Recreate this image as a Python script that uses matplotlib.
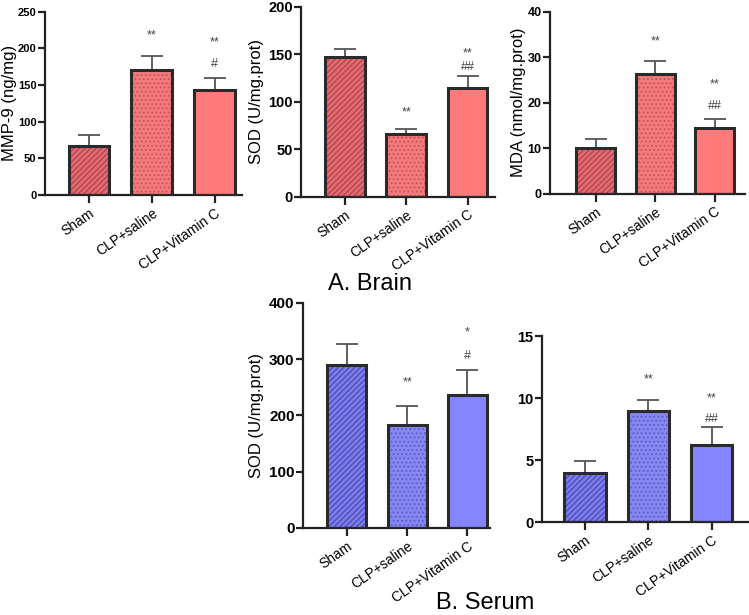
import matplotlib
matplotlib.use("Agg")
import matplotlib.pyplot as plt

plt.rcParams['font.family'] = ['Liberation Sans', 'DejaVu Sans']
plt.rcParams['hatch.linewidth'] = 0.8

# groups shared by all panels
groups = ["Sham", "CLP+saline", "CLP+Vitamin C"]

# brain panels (means and upper error bar)
mmp9_mean = [67, 171, 143]
mmp9_err = [15, 19, 17]
sod_brain_mean = [147, 66, 114]
sod_brain_err = [9, 5, 13]
mda_mean = [10.1, 26.3, 14.5]
mda_err = [1.9, 2.8, 1.9]

# serum panels
sod_serum_mean = [290, 183, 237]
sod_serum_err = [37, 33, 43]
serum2_mean = [3.95, 9.0, 6.2]
serum2_err = [1.0, 0.9, 1.45]

# significance marks (text, y)
mmp9_marks = [[], [("**", 217)], [("**", 208), ("#", 179)]]
sod_brain_marks = [[], [("**", 89)], [("**", 151), ("##", 137)]]
mda_marks = [[], [("**", 33.4)], [("**", 24), ("##", 19.3)]]
sod_serum_marks = [[], [("**", 258)], [("*", 348), ("#", 306)]]
serum2_marks = [[], [("**", 11.5)], [("**", 10), ("##", 8.3)]]

red = {"fill": ["#e46a72", "#f27a7c", "#ff7b7b"], "hatch": ["#a8404a", "#c85058", None]}
blue = {"fill": ["#7c7cec", "#8787f4", "#8585ff"], "hatch": ["#4646b0", "#5a5ac8", None]}
hatches = ["//////", "....", None]


def draw_panel(ax, means, errs, marks, ylim, yticks, ylabel, pal, xlim,
               label_x=-0.15, ytick_size=10):
    x = range(len(groups))
    for i in x:
        # fill + hatch layer
        ax.bar(i, means[i], width=0.65, color=pal["fill"][i],
               edgecolor=pal["hatch"][i] if pal["hatch"][i] else pal["fill"][i],
               hatch=hatches[i], linewidth=0, zorder=2)
        # outline layer
        ax.bar(i, means[i], width=0.65, fill=False, edgecolor="#2a2a2a",
               linewidth=2.2, zorder=3)
        ax.errorbar(i, means[i], yerr=[[0], [errs[i]]], fmt="none",
                    ecolor="#555555", elinewidth=1.3, capsize=8, capthick=1.3, zorder=1)
        for txt, yy in marks[i]:
            ax.text(i, yy, txt, ha="center", va="center", fontsize=9, color="#444444")
    ax.set_xlim(*xlim)
    ax.set_ylim(*ylim)
    ax.set_yticks(yticks)
    ax.set_xticks(list(x))
    ax.set_xticklabels(groups, rotation=35, ha="right", rotation_mode="anchor", fontsize=10)
    for lab in ax.get_yticklabels():
        lab.set_fontweight("bold")
        lab.set_fontsize(ytick_size)
    if ylabel:
        ax.set_ylabel(ylabel, fontsize=12)
        ax.yaxis.set_label_coords(label_x, 0.5)
    for s in ["top", "right"]:
        ax.spines[s].set_visible(False)
    for s in ["left", "bottom"]:
        ax.spines[s].set_linewidth(1.6)
        ax.spines[s].set_color("#222222")
    ax.tick_params(axis="y", width=1.6, length=5, color="#222222", pad=1)
    ax.tick_params(axis="x", width=1.6, length=6, color="#222222", pad=2)


fig = plt.figure(figsize=(7.49, 6.15), dpi=100)

ax1 = fig.add_axes([0.060, 0.683, 0.263, 0.298])
draw_panel(ax1, mmp9_mean, mmp9_err, mmp9_marks, (0, 250), [0, 50, 100, 150, 200, 250],
           "MMP-9 (ng/mg)", red, (-0.70, 2.43), label_x=-0.142, ytick_size=8)

ax2 = fig.add_axes([0.402, 0.680, 0.259, 0.309])
draw_panel(ax2, sod_brain_mean, sod_brain_err, sod_brain_marks, (0, 200), [0, 50, 100, 150, 200],
           "SOD (U/mg.prot)", red, (-0.72, 2.45), label_x=-0.19, ytick_size=10.5)

ax3 = fig.add_axes([0.734, 0.685, 0.260, 0.296])
draw_panel(ax3, mda_mean, mda_err, mda_marks, (0, 40), [0, 10, 20, 30, 40],
           "MDA (nmol/mg.prot)", red, (-0.77, 2.50), label_x=-0.12, ytick_size=9)

ax4 = fig.add_axes([0.4045, 0.1415, 0.250, 0.366])
draw_panel(ax4, sod_serum_mean, sod_serum_err, sod_serum_marks, (0, 400), [0, 100, 200, 300, 400],
           "SOD (U/mg.prot)", blue, (-0.73, 2.38), label_x=-0.21, ytick_size=11)

ax5 = fig.add_axes([0.7236, 0.151, 0.275, 0.302])
draw_panel(ax5, serum2_mean, serum2_err, serum2_marks, (0, 15), [0, 5, 10, 15],
           None, blue, (-0.68, 2.57), ytick_size=10.5)

fig.text(370 / 749, 1 - 284 / 615, "A. Brain", ha="center", va="center", fontsize=17)
fig.text(485 / 749, 1 - 603 / 615, "B. Serum", ha="center", va="center", fontsize=17)

fig.savefig("out.png", dpi=100)
